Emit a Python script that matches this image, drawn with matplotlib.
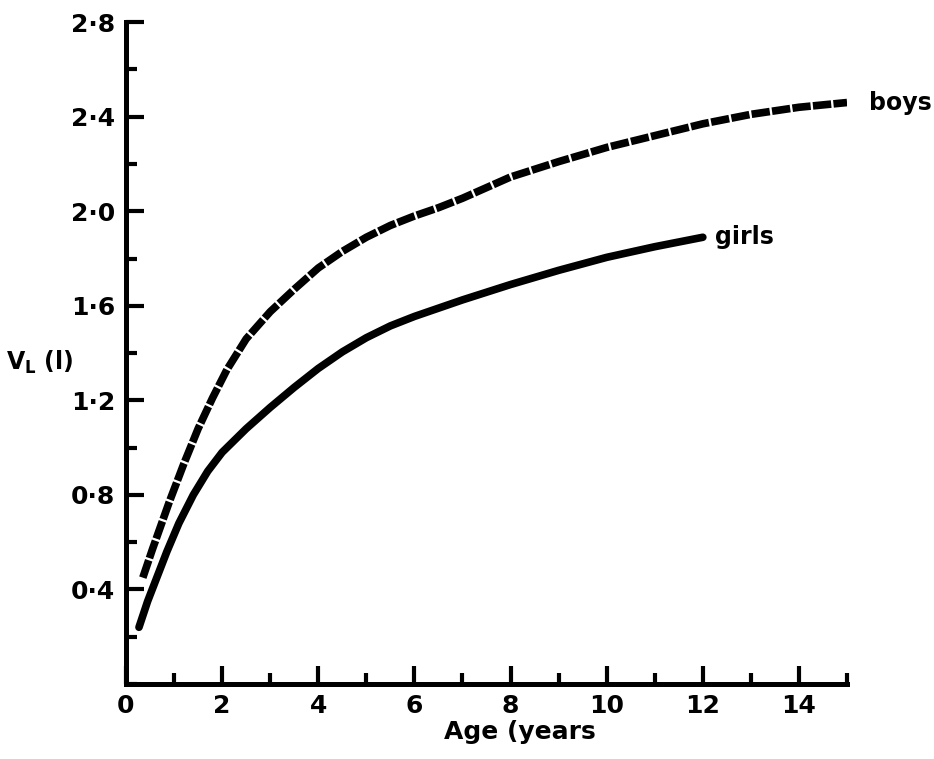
import matplotlib.pyplot as plt
from matplotlib.ticker import MultipleLocator, FixedLocator

# Data (age in years, V_L in litres)
boys_age = [0.35, 0.55, 0.9, 1.2, 1.5, 1.8, 2.1, 2.5, 3.0, 3.5, 4.0, 4.5, 5.0, 5.5, 6.0, 6.5,
            7.0, 8.0, 9.0, 10.0, 11.0, 12.0, 13.0, 14.0, 15.0]
boys_vl = [0.45, 0.57, 0.77, 0.93, 1.08, 1.21, 1.33, 1.46, 1.575, 1.67, 1.76, 1.83, 1.89, 1.94, 1.98, 2.015,
           2.055, 2.145, 2.21, 2.27, 2.32, 2.37, 2.41, 2.44, 2.46]

girls_age = [0.27, 0.45, 0.85, 1.1, 1.4, 1.7, 2.0, 2.5, 3.0, 3.5, 4.0, 4.5, 5.0, 5.5, 6.0, 6.5,
             7.0, 8.0, 9.0, 10.0, 11.0, 12.0]
girls_vl = [0.24, 0.35, 0.56, 0.68, 0.80, 0.90, 0.98, 1.08, 1.17, 1.255, 1.335, 1.405, 1.465, 1.515, 1.555, 1.59,
            1.625, 1.69, 1.75, 1.805, 1.85, 1.89]

xticks = [0, 2, 4, 6, 8, 10, 12, 14]
yticks = [0.4, 0.8, 1.2, 1.6, 2.0, 2.4, 2.8]
ytick_labels = ['0·4', '0·8', '1·2', '1·6', '2·0', '2·4', '2·8']

plt.rcParams['font.family'] = ['DejaVu Sans']
plt.rcParams['font.weight'] = 'bold'

fig = plt.figure(figsize=(9.34, 7.59), dpi=100)
ax = fig.add_axes([0.1349, 0.0988, 0.772, 0.872])

ax.plot(girls_age, girls_vl, color='black', lw=5.5, solid_capstyle='round',
        solid_joinstyle='round')
ax.plot(boys_age, boys_vl, color='black', lw=5.5, linestyle=(0, (2.4, 0.3)),
        dash_joinstyle='round')

ax.text(15.45, 2.46, 'boys', fontsize=17, fontweight='bold', va='center', ha='left')
ax.text(12.25, 1.89, 'girls', fontsize=17, fontweight='bold', va='center', ha='left')

ax.set_xlim(0, 15)
ax.set_ylim(0, 2.8)

for side in ['top', 'right']:
    ax.spines[side].set_visible(False)
for side in ['left', 'bottom']:
    ax.spines[side].set_linewidth(3.6)
    ax.spines[side].set_capstyle('projecting')

ax.xaxis.set_major_locator(FixedLocator(xticks))
ax.xaxis.set_minor_locator(MultipleLocator(1))
ax.yaxis.set_major_locator(FixedLocator(yticks))
ax.yaxis.set_minor_locator(MultipleLocator(0.2))
ax.set_xticklabels([str(t) for t in xticks])
ax.set_yticklabels(ytick_labels)

ax.tick_params(which='both', direction='in', width=3)
ax.tick_params(which='major', length=13, labelsize=18, pad=8)
ax.tick_params(which='minor', length=8)
ax.tick_params(axis='x', which='major', pad=7)

ax.set_xlabel('Age (years', fontsize=18, fontweight='bold')
ax.xaxis.set_label_coords(0.546, -0.054)

ax.text(-0.119, 0.486, r'V$_\mathregular{L}$ (l)', transform=ax.transAxes,
        fontsize=17, fontweight='bold', ha='center', va='center')

fig.savefig('out.png', dpi=100)
